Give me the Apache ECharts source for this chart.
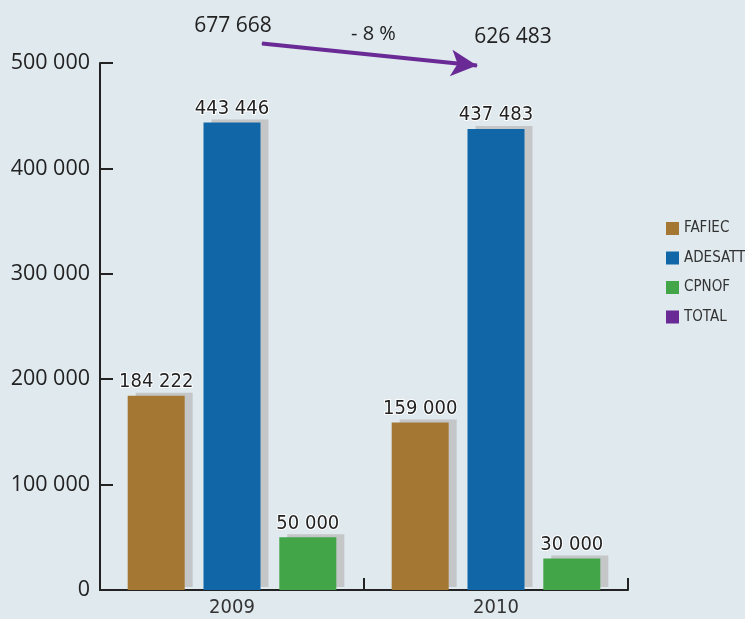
<!DOCTYPE html>
<html><head><meta charset="utf-8">
<script src="https://cdn.jsdelivr.net/npm/echarts@6/dist/echarts.min.js"></script>
<style>html,body{margin:0;padding:0;background:#dfe9ee}#c{width:745px;height:619px}</style>
</head><body><div id="c"></div>
<script>
const categories = ['2009', '2010'];
const fafiec = [184222, 159000];
const adesatt = [443446, 437483];
const cpnof = [50000, 30000];
const total = [677668, 626483];
const yTicks = [0, 100000, 200000, 300000, 400000, 500000];

const fmt = v => String(v).replace(/\B(?=(\d{3})+(?!\d))/g, ' ');
const pct = Math.round((total[1] - total[0]) / total[0] * 100);
const pctText = (pct < 0 ? '- ' : '+ ') + Math.abs(pct) + ' %';

const narrow = '"Liberation Sans Narrow", "DejaVu Sans Condensed", sans-serif';
const barLabel = {
  show: true, position: 'top', distance: 4,
  formatter: p => fmt(p.value),
  fontFamily: narrow, fontSize: 20, color: '#222',
  textBorderColor: '#ffffff', textBorderWidth: 2
};
function barSeries(name, data, color) {
  return {
    name, type: 'bar', data, xAxisIndex: 0, yAxisIndex: 0,
    barWidth: 57, barGap: '33%', barCategoryGap: '21%',
    itemStyle: { color, shadowColor: '#c4c6c8', shadowBlur: 0, shadowOffsetX: 8, shadowOffsetY: -3 },
    label: barLabel
  };
}
const chart = echarts.init(document.getElementById('c'));
chart.setOption({
  backgroundColor: '#dfe9ee',
  animation: false,
  legend: {
    orient: 'vertical', left: 661, top: 216, itemWidth: 13, itemHeight: 13, itemGap: 14.5,
    icon: 'rect',
    textStyle: { fontFamily: narrow, fontSize: 15, color: '#333' },
    data: ['FAFIEC', 'ADESATT', 'CPNOF', 'TOTAL']
  },
  grid: [
    { left: 100, right: 117, top: 63, bottom: 29 },
    { left: 262, right: 268, top: 34, bottom: 542 }
  ],
  xAxis: [
    { type: 'category', gridIndex: 0, data: categories,
      axisLine: { lineStyle: { color: '#222', width: 2 } },
      axisTick: { show: true, inside: true, length: 12, alignWithLabel: false, lineStyle: { color: '#222', width: 2 } },
      axisLabel: { fontFamily: narrow, fontSize: 20, color: '#333', margin: 8 } },
    { type: 'value', gridIndex: 1, min: 0, max: 1, show: false }
  ],
  yAxis: [
    { type: 'value', gridIndex: 0, min: yTicks[0], max: yTicks[yTicks.length - 1], interval: 100000,
      splitLine: { show: false },
      axisLine: { show: true, lineStyle: { color: '#222', width: 2 } },
      axisTick: { show: true, inside: true, length: 13, lineStyle: { color: '#222', width: 2 } },
      axisLabel: { formatter: v => fmt(v), fontFamily: '"Open Sans", sans-serif', fontSize: 21.5, color: '#222', margin: 10 } },
    { type: 'value', gridIndex: 1, min: 600000, max: 700000, show: false }
  ],
  series: [
    barSeries('FAFIEC', fafiec, '#a47832'),
    barSeries('ADESATT', adesatt, '#1066a6'),
    barSeries('CPNOF', cpnof, '#42a648'),
    {
      name: 'TOTAL', type: 'line', xAxisIndex: 1, yAxisIndex: 1,
      data: total.map((v, i) => ({
        value: [i, v],
        label: { offset: i === 0 ? [-29, -2] : [36, -13] }
      })),
      symbol: 'circle', symbolSize: 1,
      itemStyle: { color: '#6a2a96' },
      lineStyle: { width: 0, opacity: 0 },
      label: { show: true, position: 'top', distance: 5, formatter: p => fmt(p.value[1]),
        fontFamily: '"Open Sans", sans-serif', fontSize: 21, color: '#222' },
      markLine: {
        silent: true, symbol: ['none', 'arrow'], symbolSize: [20, 26],
        lineStyle: { color: '#6a2a96', width: 4, type: 'solid' },
        label: { show: false },
        data: [[{ coord: [0, total[0]] }, { coord: [1, total[1]] }]]
      }
    }
  ],
  graphic: [{
    type: 'text', left: 351, top: 24,
    style: { text: pctText, fontFamily: '"Open Sans", sans-serif', fontSize: 20, fill: '#222' }
  }]
});
</script></body></html>
